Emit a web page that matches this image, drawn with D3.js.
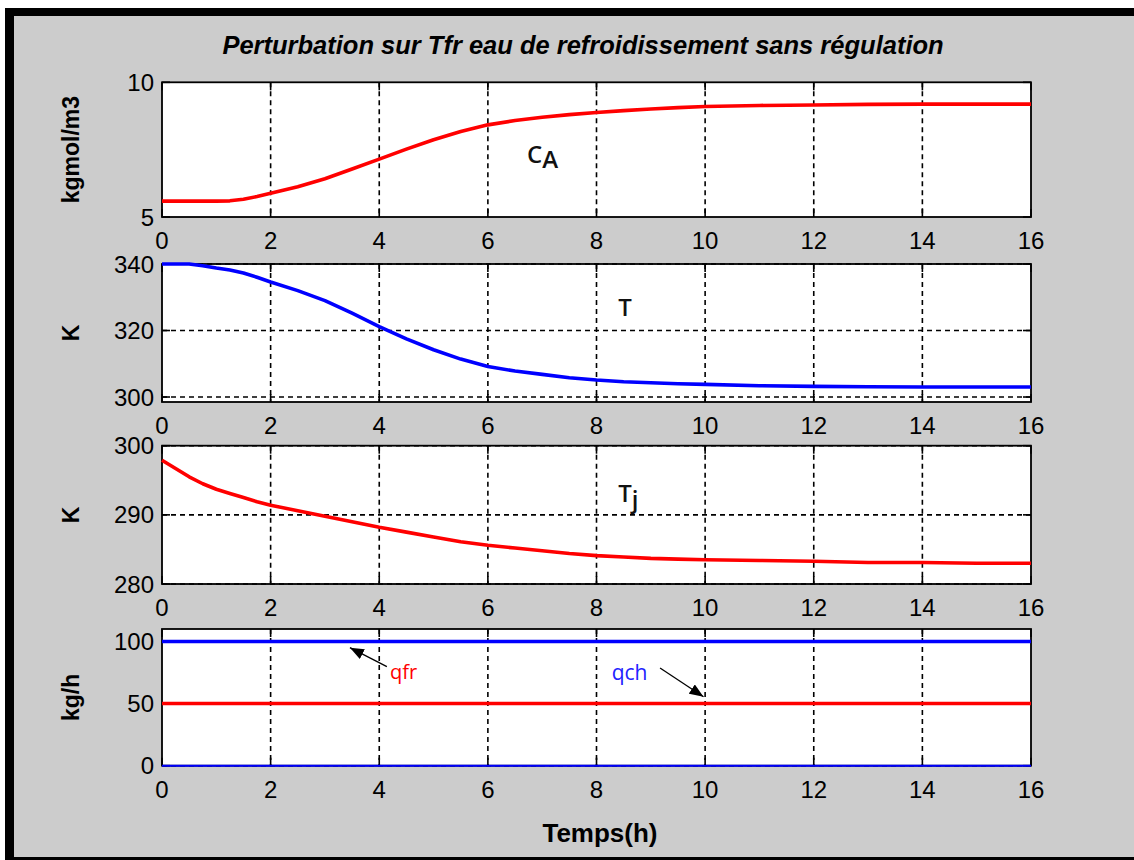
<!DOCTYPE html>
<html>
<head>
<meta charset="utf-8">
<script src="https://cdn.jsdelivr.net/npm/d3@7"></script>
<style>
  html, body { margin: 0; padding: 0; background: #ffffff; }
  svg { display: block; }
</style>
</head>
<body>
<svg id="fig" width="1134" height="860"></svg>
<script>
// Simulation time (h)
const temps = [0, 0.25, 0.5, 0.75, 1, 1.25, 1.5, 1.75, 2, 2.5, 3, 3.5, 4, 4.5, 5, 5.5,
  6, 6.5, 7, 7.5, 8, 8.5, 9, 9.5, 10, 11, 12, 13, 14, 15, 16];

// Concentration CA (kgmol/m3)
const concA = [5.59, 5.59, 5.59, 5.59, 5.59, 5.60, 5.66, 5.76, 5.88, 6.12, 6.42, 6.78, 7.15, 7.52, 7.87, 8.17,
  8.42, 8.58, 8.70, 8.80, 8.88, 8.95, 9.01, 9.06, 9.10, 9.14, 9.16, 9.18, 9.19, 9.19, 9.19];

// Reactor temperature T (K)
const tempReacteur = [340, 340, 340, 339.5, 338.8, 338.2, 337.3, 336.0, 334.6, 332.0, 329.0, 325.2, 321.2, 317.5, 314.2, 311.4,
  309.2, 307.8, 306.8, 305.8, 305.1, 304.6, 304.3, 304.0, 303.8, 303.4, 303.2, 303.1, 303.0, 303.0, 303.0];

// Jacket temperature Tj (K)
const tempJacket = [297.9, 296.7, 295.5, 294.5, 293.7, 293.1, 292.5, 291.9, 291.4, 290.6, 289.8, 289.0, 288.2, 287.5, 286.8, 286.1,
  285.6, 285.2, 284.8, 284.4, 284.1, 283.9, 283.7, 283.6, 283.5, 283.4, 283.3, 283.1, 283.1, 283.0, 283.0];

// Flow rates (kg/h), constant over the run
const debitTemps = [0, 16];
const debitHaut = [100, 100];
const debitMilieu = [50, 50];
const debitBas = [0, 0];

// Tick values
const xTicks = [0, 2, 4, 6, 8, 10, 12, 14, 16];
const yTicksCA = [5, 10];
const yTicksT = [300, 320, 340];
const yTicksTj = [280, 290, 300];
const yTicksDebit = [0, 50, 100];

const svg = d3.select("#fig");
const W = 1134, H = 860;
const tickFont = "Liberation Sans, Arial, Helvetica, sans-serif";

// Figure background with dark frame
svg.append("rect").attr("x", 5).attr("y", 8).attr("width", W - 5).attr("height", H - 8).attr("fill", "#000");
svg.append("rect").attr("x", 14).attr("y", 16).attr("width", W - 14).attr("height", 841).attr("fill", "#cccccc");

const x0 = 162, x1 = 1031;
const x = d3.scaleLinear().domain([0, 16]).range([x0, x1]);

const panels = [
  { top: 82.3, bottom: 217, domain: [5, 10], ticks: yTicksCA, grid: [], label: "kgmol/m3",
    series: [{ y: concA, t: temps, color: "#ff0000" }] },
  { top: 264, bottom: 402, domain: [298.5, 340], ticks: yTicksT, grid: yTicksT, label: "K",
    series: [{ y: tempReacteur, t: temps, color: "#0000ff" }] },
  { top: 445.7, bottom: 584, domain: [280, 300], ticks: yTicksTj, grid: yTicksTj, label: "K",
    series: [{ y: tempJacket, t: temps, color: "#ff0000" }] },
  { top: 629, bottom: 765.7, domain: [0, 110], ticks: yTicksDebit, grid: yTicksDebit, label: "kg/h",
    series: [
      { y: debitHaut, t: debitTemps, color: "#0000ff" },
      { y: debitMilieu, t: debitTemps, color: "#ff0000" },
      { y: debitBas, t: debitTemps, color: "#0000ff", thin: true }
    ] }
];

const tickLen = 8;

panels.forEach((p, i) => {
  const y = d3.scaleLinear().domain(p.domain).range([p.bottom, p.top]);
  p.y = y;
  const g = svg.append("g");

  g.append("rect").attr("x", x0).attr("y", p.top).attr("width", x1 - x0).attr("height", p.bottom - p.top)
    .attr("fill", "#ffffff");

  // dashed grid
  g.selectAll(".vg").data(xTicks.filter(d => d > 0 && d < 16)).join("line")
    .attr("x1", d => x(d)).attr("x2", d => x(d)).attr("y1", p.top).attr("y2", p.bottom)
    .attr("stroke", "#000").attr("stroke-width", 1.6).attr("stroke-dasharray", "5,4");
  g.selectAll(".hg").data(p.grid).join("line")
    .attr("x1", x0).attr("x2", x1).attr("y1", d => y(d)).attr("y2", d => y(d))
    .attr("stroke", "#000").attr("stroke-width", 1.6).attr("stroke-dasharray", "5,4");

  // inward ticks on all four sides
  xTicks.forEach(v => {
    g.append("line").attr("x1", x(v)).attr("x2", x(v)).attr("y1", p.bottom).attr("y2", p.bottom - tickLen)
      .attr("stroke", "#000").attr("stroke-width", 1.6);
    g.append("line").attr("x1", x(v)).attr("x2", x(v)).attr("y1", p.top).attr("y2", p.top + tickLen)
      .attr("stroke", "#000").attr("stroke-width", 1.6);
  });
  p.ticks.forEach(v => {
    g.append("line").attr("x1", x0).attr("x2", x0 + tickLen).attr("y1", y(v)).attr("y2", y(v))
      .attr("stroke", "#000").attr("stroke-width", 1.6);
    g.append("line").attr("x1", x1).attr("x2", x1 - tickLen).attr("y1", y(v)).attr("y2", y(v))
      .attr("stroke", "#000").attr("stroke-width", 1.6);
  });

  // box
  g.append("rect").attr("x", x0).attr("y", p.top).attr("width", x1 - x0).attr("height", p.bottom - p.top)
    .attr("fill", "none").attr("stroke", "#000").attr("stroke-width", 1.8);

  // data
  const line = d3.line().x(d => x(d[0])).y(d => y(d[1]));
  p.series.forEach(s => {
    const pts = s.t.map((tv, k) => [tv, s.y[k]]);
    g.append("path").attr("d", line(pts)).attr("fill", "none")
      .attr("stroke", s.color).attr("stroke-width", s.thin ? 2 : 3.6)
      .attr("stroke-linejoin", "round");
  });

  // tick labels
  g.selectAll(".xl").data(xTicks).join("text")
    .attr("x", d => x(d)).attr("y", p.bottom + 32)
    .attr("text-anchor", "middle").attr("font-family", tickFont).attr("font-size", 24).attr("fill", "#000")
    .text(d => d);
  g.selectAll(".yl").data(p.ticks).join("text")
    .attr("x", x0 - 8).attr("y", d => y(d)).attr("dy", "0.36em")
    .attr("text-anchor", "end").attr("font-family", tickFont).attr("font-size", 24).attr("fill", "#000")
    .text(d => d);

  // y axis label
  const cy = (p.top + p.bottom) / 2;
  g.append("text").attr("transform", `translate(79,${cy}) rotate(-90)`)
    .attr("text-anchor", "middle").attr("font-family", tickFont).attr("font-weight", "bold")
    .attr("font-size", 23).attr("fill", "#000").text(p.label);
});

// Title
svg.append("text").attr("x", 583).attr("y", 54).attr("text-anchor", "middle")
  .attr("font-family", tickFont).attr("font-weight", "bold").attr("font-style", "italic")
  .attr("font-size", 25.5).attr("fill", "#000")
  .text("Perturbation sur Tfr eau de refroidissement sans régulation");

// x axis label
svg.append("text").attr("x", 600).attr("y", 842).attr("text-anchor", "middle")
  .attr("font-family", tickFont).attr("font-weight", "bold").attr("font-size", 26).attr("fill", "#000")
  .text("Temps(h)");

// Curve names
const annFont = "'Open Sans', 'Noto Sans', sans-serif";
const pA = panels[0], pT = panels[1], pJ = panels[2], pQ = panels[3];

const tCA = svg.append("text").attr("x", x(6.72)).attr("y", pA.y(7.0))
  .attr("font-family", annFont).attr("font-weight", 600).attr("font-size", 24).attr("fill", "#111");
tCA.append("tspan").text("C");
tCA.append("tspan").attr("dy", 5).text("A");

svg.append("text").attr("x", x(8.4)).attr("y", pT.y(324.4))
  .attr("font-family", annFont).attr("font-weight", 600).attr("font-size", 24).attr("fill", "#111").text("T");

const tTj = svg.append("text").attr("x", x(8.4)).attr("y", pJ.y(291.9))
  .attr("font-family", annFont).attr("font-weight", 600).attr("font-size", 24).attr("fill", "#111");
tTj.append("tspan").text("T");
tTj.append("tspan").attr("dy", 6).text("j");

// Flow annotations with arrows
const defs = svg.append("defs");
defs.append("marker").attr("id", "tete").attr("viewBox", "0 0 10 10").attr("refX", 10).attr("refY", 5)
  .attr("markerWidth", 14).attr("markerHeight", 11).attr("markerUnits", "userSpaceOnUse")
  .attr("orient", "auto").attr("preserveAspectRatio", "none")
  .append("path").attr("d", "M0,0 L10,5 L0,10 Z").attr("fill", "#000");

svg.append("line").attr("x1", x(4.14)).attr("y1", pQ.y(79.7)).attr("x2", x(3.46)).attr("y2", pQ.y(95))
  .attr("stroke", "#000").attr("stroke-width", 1.3).attr("marker-end", "url(#tete)");
svg.append("text").attr("x", x(4.2)).attr("y", pQ.y(69.8))
  .attr("font-family", annFont).attr("font-size", 20).attr("fill", "#ff0000").text("qfr");

svg.append("line").attr("x1", x(9.17)).attr("y1", pQ.y(78.6)).attr("x2", x(9.97)).attr("y2", pQ.y(55.5))
  .attr("stroke", "#000").attr("stroke-width", 1.3).attr("marker-end", "url(#tete)");
svg.append("text").attr("x", x(8.28)).attr("y", pQ.y(69))
  .attr("font-family", annFont).attr("font-size", 21).attr("fill", "#2222ff").text("qch");
</script>
</body>
</html>
